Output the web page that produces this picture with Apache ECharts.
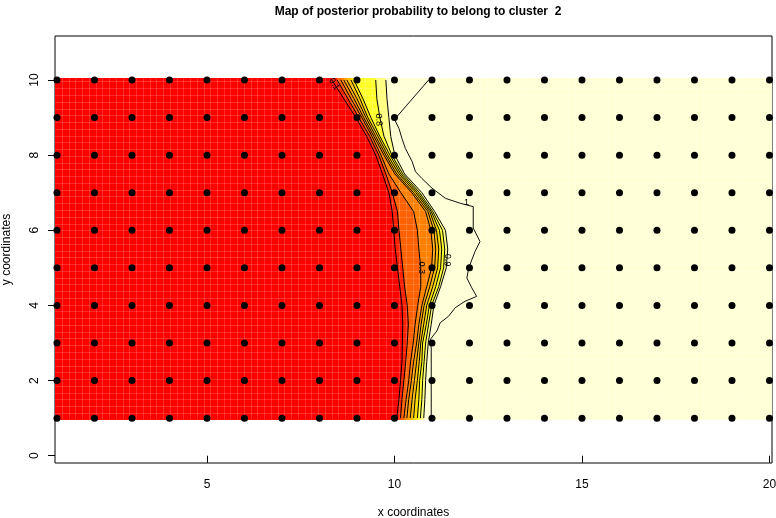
<!DOCTYPE html>
<html>
<head>
<meta charset="utf-8">
<script src="https://cdn.jsdelivr.net/npm/echarts@6/dist/echarts.min.js"></script>
<style>
  html, body { margin: 0; padding: 0; background: #fff; }
  #chart { width: 776px; height: 518px; }
</style>
</head>
<body>
<div id="chart"></div>
<script>
// sampling sites (the black dots)
const siteX = [1, 2, 3, 4, 5, 6, 7, 8, 9, 10, 11, 12, 13, 14, 15, 16, 17, 18, 19, 20];
const siteY = [1, 2, 3, 4, 5, 6, 7, 8, 9, 10];

// y rows where the contour positions were read
const rowY = [10, 9.5, 9, 8.5, 8, 7.5, 7, 6.5, 6, 5.5, 5, 4.5, 4, 3.5, 3, 2.5, 2, 1.5, 1];

// x position of each contour level on those rows
const c01 = [8.33, 8.65, 8.97, 9.26, 9.50, 9.68, 9.85, 9.94, 9.98, 10.02, 10.08, 10.14, 10.20, 10.22, 10.21, 10.20, 10.16, 10.12, 10.06];
const c02 = [8.47, 8.76, 9.05, 9.34, 9.58, 9.77, 9.94, 10.08, 10.12, 10.17, 10.22, 10.27, 10.34, 10.37, 10.34, 10.30, 10.25, 10.20, 10.16];
const c03 = [8.57, 8.84, 9.13, 9.40, 9.64, 9.85, 10.17, 10.51, 10.61, 10.65, 10.70, 10.70, 10.62, 10.55, 10.50, 10.43, 10.38, 10.31, 10.25];
const c04 = [8.65, 8.92, 9.18, 9.45, 9.72, 10.01, 10.46, 10.83, 10.97, 11.02, 10.99, 10.86, 10.73, 10.65, 10.59, 10.51, 10.45, 10.38, 10.33];
const c05 = [8.73, 9.00, 9.24, 9.50, 9.77, 10.06, 10.51, 10.89, 11.05, 11.10, 11.07, 10.94, 10.79, 10.71, 10.65, 10.59, 10.53, 10.47, 10.42];
const c06 = [8.84, 9.08, 9.29, 9.56, 9.82, 10.12, 10.57, 10.94, 11.12, 11.18, 11.15, 11.02, 10.86, 10.78, 10.70, 10.66, 10.61, 10.55, 10.51];
const c07 = [8.92, 9.16, 9.37, 9.61, 9.88, 10.17, 10.62, 10.98, 11.20, 11.26, 11.23, 11.10, 10.93, 10.85, 10.75, 10.73, 10.67, 10.65, 10.61];
const c08 = [9.50, 9.53, 9.61, 9.72, 9.93, 10.22, 10.67, 11.02, 11.28, 11.34, 11.31, 11.18, 10.99, 10.91, 10.83, 10.79, 10.75, 10.73, 10.69];
const c09 = [9.77, 9.80, 9.85, 9.90, 10.01, 10.27, 10.73, 11.07, 11.36, 11.42, 11.38, 11.23, 11.05, 10.98, 10.90, 10.86, 10.83, 10.81, 10.78];
const levels = [0.1, 0.2, 0.3, 0.4, 0.5, 0.6, 0.7, 0.8, 0.9];
const contours = [c01, c02, c03, c04, c05, c06, c07, c08, c09];

// the ragged level-1 contour
const level1X = [10.91, 10.00, 10.12, 10.20, 10.29, 10.47, 10.56, 10.73, 11.00, 11.36, 11.75, 12.10, 12.10, 12.28, 12.15, 11.98, 11.93, 12.06, 12.19, 11.88, 11.62, 11.44, 11.22, 11.13, 10.96, 10.98, 10.98];
const level1Y = [10.00, 8.95, 8.71, 8.44, 8.18, 7.83, 7.56, 7.38, 7.12, 6.85, 6.72, 6.63, 6.06, 5.70, 5.44, 5.00, 4.73, 4.47, 4.24, 4.11, 3.94, 3.71, 3.54, 3.32, 3.10, 2.87, 1.00];

// contour labels
const labelText = ['0.1', '0.8', '1', '0.9', '0.3'];
const labelX = [8.39, 9.58, 11.92, 11.41, 10.73];
const labelY = [9.89, 8.94, 6.73, 5.21, 5.00];
const labelAngle = [-58, -85, 0, -92, -90];

const xTicks = [5, 10, 15, 20];
const yTicks = [0, 2, 4, 6, 8, 10];

// heat.colors style bands: below 0.1, 0.1-0.2, ... , above 0.9
const bandColors = ['#FF0000', '#FF2000', '#FF6000', '#FF8000', '#FF9F00', '#FFBF00', '#FFDF00', '#FFFF2A', '#FFFF80', '#FFFFD5'];

const xMin = 0.947, xMax = 20.067, yMin = -0.194, yMax = 11.171;
const imgTop = 10.05, imgBot = 0.96;
const font = '"Liberation Sans", Arial, sans-serif';

const chart = echarts.init(document.getElementById('chart'));

const fillData = [[xMin, imgBot, 9]];
for (let i = contours.length - 1; i >= 0; i--) fillData.push([xMin, imgBot, i]);

function renderFill(params, api) {
  const band = api.value(2);
  let pts;
  if (band === 9) {
    pts = [[xMin, imgBot], [xMax, imgBot], [xMax, imgTop], [xMin, imgTop]];
  } else {
    const cx = contours[band];
    pts = [[cx[0], imgTop]];
    cx.forEach((x, j) => pts.push([x, rowY[j]]));
    pts.push([cx[cx.length - 1], imgBot], [xMin, imgBot], [xMin, imgTop]);
  }
  return {
    type: 'polygon',
    shape: { points: pts.map(p => api.coord(p)) },
    style: { fill: bandColors[band], stroke: null }
  };
}

// faint cell seams of the raster image
function renderSeams(params, api) {
  const children = [];
  const step = 0.18;
  const seam = 'rgba(255,255,255,0.16)';
  const a = api.coord([xMin, imgTop]), b = api.coord([xMax, imgBot]);
  for (let x = xMin + step; x < xMax; x += step) {
    const px = Math.round(api.coord([x, 0])[0]) + 0.5;
    children.push({ type: 'line', shape: { x1: px, y1: a[1], x2: px, y2: b[1] },
      style: { stroke: seam, lineWidth: 1 } });
  }
  for (let y = imgBot + step; y < imgTop; y += step) {
    const py = Math.round(api.coord([0, y])[1]) + 0.5;
    children.push({ type: 'line', shape: { x1: a[0], y1: py, x2: b[0], y2: py },
      style: { stroke: seam, lineWidth: 1 } });
  }
  return { type: 'group', children };
}

const series = [
  { type: 'custom', renderItem: renderFill, data: fillData, silent: true, clip: true, z: 1 },
  { type: 'custom', renderItem: renderSeams, data: [[xMin, imgBot]], silent: true, clip: true, z: 2 }
];

contours.forEach((cx, i) => {
  series.push({
    type: 'line', name: String(levels[i]), data: cx.map((x, j) => [x, rowY[j]]),
    symbol: 'none', silent: true, z: 3,
    lineStyle: { color: '#000', width: 1, opacity: 1 }
  });
});
series.push({
  type: 'line', name: '1', data: level1X.map((x, j) => [x, level1Y[j]]),
  symbol: 'none', silent: true, z: 3,
  lineStyle: { color: '#111', width: 1, opacity: 1 }
});

series.push({
  type: 'custom', silent: true, z: 4,
  data: labelText.map((t, i) => [labelX[i], labelY[i], i]),
  renderItem: (params, api) => {
    const i = api.value(2);
    const p = api.coord([api.value(0), api.value(1)]);
    return {
      type: 'text', x: p[0], y: p[1], rotation: labelAngle[i] * Math.PI / 180,
      style: { text: labelText[i], fill: '#000', font: '9px ' + font, align: 'center', verticalAlign: 'middle' }
    };
  }
});

const sites = [];
siteY.forEach(y => siteX.forEach(x => sites.push([x, y])));
series.push({
  type: 'scatter', data: sites, symbol: 'circle', symbolSize: 7, silent: true, z: 5,
  itemStyle: { color: '#000', opacity: 1 }
});

chart.setOption({
  animation: false,
  backgroundColor: '#fff',
  title: {
    text: 'Map of posterior probability to belong to cluster  2',
    left: 413, top: 1, textAlign: 'center',
    textStyle: { fontFamily: font, fontSize: 12, fontWeight: 'bold', color: '#000' }
  },
  grid: {
    left: 55, right: 4, top: 36, bottom: 55,
    containLabel: false, outerBoundsMode: 'none',
    show: true, borderColor: '#000', borderWidth: 1, backgroundColor: 'transparent'
  },
  xAxis: {
    type: 'value', min: xMin, max: xMax,
    name: 'x coordinates', nameLocation: 'middle', nameGap: 44,
    nameTextStyle: { fontFamily: font, fontSize: 12, color: '#000' },
    axisLine: { show: false }, splitLine: { show: false },
    axisTick: { show: true, length: 7, customValues: xTicks, lineStyle: { color: '#000' } },
    axisLabel: { customValues: xTicks, margin: 16, fontFamily: font, fontSize: 12, color: '#000' }
  },
  yAxis: {
    type: 'value', min: yMin, max: yMax,
    name: 'y coordinates', nameLocation: 'middle', nameGap: 42, nameRotate: 90,
    nameTextStyle: { fontFamily: font, fontSize: 12, color: '#000' },
    axisLine: { show: false }, splitLine: { show: false },
    axisTick: { show: true, length: 7, customValues: yTicks, lineStyle: { color: '#000' } },
    axisLabel: { customValues: yTicks, rotate: 90, margin: 14, fontFamily: font, fontSize: 12, color: '#000' }
  },
  series
});
</script>
</body>
</html>
